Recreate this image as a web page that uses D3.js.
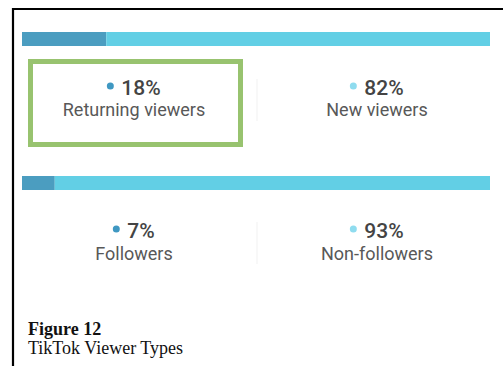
<!DOCTYPE html>
<html>
<head>
<meta charset="utf-8">
<script src="https://cdn.jsdelivr.net/npm/d3@7"></script>
<style>
  html, body { margin: 0; padding: 0; background: #fff; }
  svg { display: block; }
</style>
</head>
<body>
<svg id="chart" width="503" height="366"></svg>
<script>
// Viewer breakdowns, in percent
const viewerLabels = ["Returning viewers", "New viewers"];
const viewerShares = [18, 82];
const followerLabels = ["Followers", "Non-followers"];
const followerShares = [7, 93];

const segmentColors = ["#4b9dc0", "#62cfe5"];
const dotColors = ["#3f98c2", "#8fdcef"];

const svg = d3.select("#chart");
const W = 503, H = 366;

// frame (top and left edges only are within view)
svg.append("line").attr("x1", 13).attr("x2", W).attr("y1", 9).attr("y2", 9)
  .attr("stroke", "#000").attr("stroke-width", 2.2);
svg.append("line").attr("x1", 13).attr("x2", 13).attr("y1", 8).attr("y2", H)
  .attr("stroke", "#000").attr("stroke-width", 2.2);

const x = d3.scaleLinear().domain([0, 100]).range([22, 490]);
const colCenters = d3.scaleOrdinal().domain([0, 1]).range([134, 377]);

function drawBreakdown(labels, shares, barY, pctY, labelY, dividerY) {
  const g = svg.append("g");
  let acc = 0;
  const segs = shares.map((v, i) => {
    const s = { i, v, x0: acc, x1: acc + v };
    acc += v;
    return s;
  });

  g.selectAll("rect.seg").data(segs).join("rect")
    .attr("class", "seg")
    .attr("x", d => x(d.x0))
    .attr("width", d => x(d.x1) - x(d.x0))
    .attr("y", barY)
    .attr("height", 14)
    .attr("fill", d => segmentColors[d.i]);

  // faint divider between the two columns
  g.append("line").attr("x1", 257).attr("x2", 257)
    .attr("y1", dividerY[0]).attr("y2", dividerY[1])
    .attr("stroke", "#f1f1f1").attr("stroke-width", 1);

  const cols = g.selectAll("g.col").data(segs).join("g").attr("class", "col");

  cols.append("text")
    .attr("x", d => colCenters(d.i) + 7)
    .attr("y", pctY)
    .attr("text-anchor", "middle")
    .attr("font-family", "Roboto, 'Liberation Sans', sans-serif")
    .attr("font-size", 21)
    .attr("font-weight", 500)
    .attr("fill", "#444")
    .text(d => d.v + "%");

  cols.each(function(d) {
    const t = d3.select(this).select("text").node();
    const bb = t.getBBox();
    d3.select(this).append("circle")
      .attr("cx", bb.x - 11)
      .attr("cy", pctY - 9)
      .attr("r", 3.5)
      .attr("fill", dotColors[d.i]);
  });

  cols.append("text")
    .attr("x", d => colCenters(d.i))
    .attr("y", labelY)
    .attr("text-anchor", "middle")
    .attr("font-family", "Roboto, 'Liberation Sans', sans-serif")
    .attr("font-size", 18)
    .attr("fill", "#585858")
    .text(d => labels[d.i]);
}

drawBreakdown(viewerLabels, viewerShares, 32, 95, 116, [79, 121]);
drawBreakdown(followerLabels, followerShares, 176, 238, 260, [222, 264]);

// highlight around the returning-viewers column
svg.append("rect")
  .attr("x", 30.5).attr("y", 61.5)
  .attr("width", 210).attr("height", 83)
  .attr("fill", "none")
  .attr("stroke", "#98c36f")
  .attr("stroke-width", 5);

// caption
svg.append("text").attr("x", 28).attr("y", 335)
  .attr("font-family", "'Liberation Serif', 'Times New Roman', serif")
  .attr("font-size", 18).attr("font-weight", "bold").attr("fill", "#111")
  .text("Figure 12");
svg.append("text").attr("x", 28).attr("y", 354)
  .attr("font-family", "'Liberation Serif', 'Times New Roman', serif")
  .attr("font-size", 18).attr("fill", "#111")
  .text("TikTok Viewer Types");
</script>
</body>
</html>
